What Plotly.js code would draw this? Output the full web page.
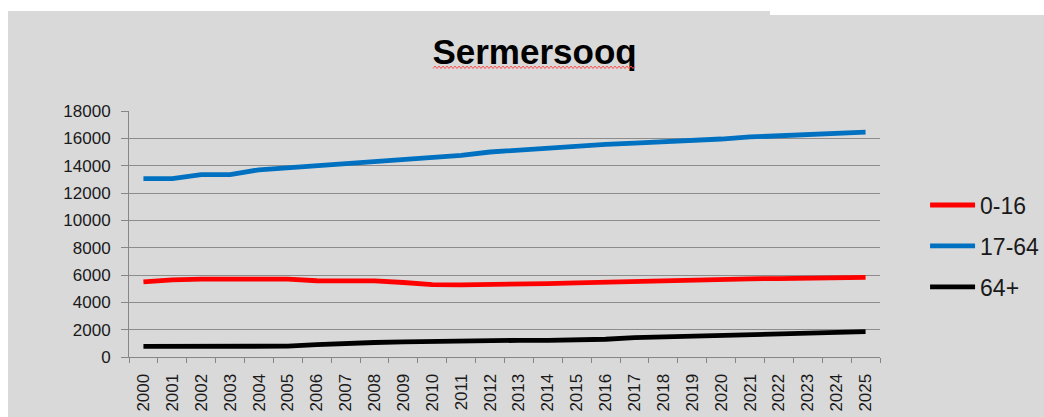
<!DOCTYPE html>
<html>
<head>
<meta charset="utf-8">
<script src="https://cdn.plot.ly/plotly-3.0.1.min.js"></script>
<style>
  html, body { margin: 0; padding: 0; background: #ffffff; width: 1044px; height: 417px; overflow: hidden; }
  #chart { position: absolute; left: 8px; top: 11px; width: 1036px; height: 406px; }
  #notch { position: absolute; left: 770px; top: 11px; width: 274px; height: 4px; background: #ffffff; }
  #squiggle { position: absolute; left: 0; top: 0; pointer-events: none; }
</style>
</head>
<body>
<div id="chart"></div>
<div id="notch"></div>
<svg id="squiggle" width="1044" height="417"></svg>
<script>
// ---- data ----
const years = ["2000","2001","2002","2003","2004","2005","2006","2007","2008","2009",
               "2010","2011","2012","2013","2014","2015","2016","2017","2018","2019",
               "2020","2021","2022","2023","2024","2025"];
const age0_16  = [5500,5650,5700,5700,5720,5700,5580,5570,5570,5450,
                  5300,5280,5290,5300,5370,5420,5470,5530,5620,5680,
                  5700,5720,5740,5780,5800,5820];
const age17_64 = [13050,13050,13350,13350,13700,13850,14000,14100,14250,14400,
                  14550,14750,15000,15150,15300,15450,15550,15650,15750,15800,
                  15950,16100,16200,16250,16350,16450];
const age64p   = [780,780,780,780,780,790,900,1000,1060,1100,
                  1150,1200,1220,1220,1220,1230,1300,1420,1480,1530,
                  1580,1620,1680,1730,1780,1850];
const seriesNames = ["0-16","17-64","64+"];
const yTicks = [0,2000,4000,6000,8000,10000,12000,14000,16000,18000];
const chartTitle = "Sermersooq";

const colors = ["#ff0000","#0070c0","#000000"];
const values = [age0_16, age17_64, age64p];

const traces = values.map((v, i) => ({
  type: "scatter", mode: "lines", x: years, y: v, name: seriesNames[i],
  legendgroup: "g" + i,
  line: { color: colors[i], width: 4.8 }
}));

const font = "Liberation Sans, Arial, sans-serif";
const layout = {
  width: 1036, height: 406,
  paper_bgcolor: "#d9d9d9", plot_bgcolor: "#d9d9d9",
  margin: { l: 121, r: 164, t: 100, b: 60, autoexpand: false },
  font: { family: font, color: "#1a1a1a" },
  title: {
    text: "<b>" + chartTitle + "</b>",
    font: { family: font, size: 35, color: "#000000" },
    x: 0.54, xanchor: "center", xref: "paper",
    y: 0.9, yanchor: "middle", yref: "container"
  },
  showlegend: true,
  legend: {
    x: 1.06, xanchor: "left", y: 0.451, yanchor: "middle",
    bgcolor: "rgba(0,0,0,0)", font: { family: font, size: 23, color: "#1a1a1a" },
    tracegroupgap: 8, itemwidth: 45
  },
  xaxis: {
    type: "category", tickangle: -90, tickson: "boundaries",
    range: [-0.5, years.length - 0.5],
    ticks: "outside", ticklen: 5, tickcolor: "#868686",
    showline: true, linecolor: "#868686", linewidth: 1,
    showgrid: false, tickfont: { family: font, size: 17, color: "#1a1a1a" },
    ticklabelstandoff: 9, fixedrange: true
  },
  yaxis: {
    range: [0, 18000], tickvals: yTicks, ticktext: yTicks.map(String),
    ticks: "outside", ticklen: 7, tickcolor: "#868686",
    showline: true, linecolor: "#868686", linewidth: 1,
    showgrid: true, gridcolor: "#8c8c8c", gridwidth: 1, zeroline: false,
    tickfont: { family: font, size: 17, color: "#1a1a1a" },
    ticklabelstandoff: 7, fixedrange: true
  }
};

Plotly.newPlot("chart", traces, layout, { displayModeBar: false, staticPlot: true });

// decorative spell-check squiggle under the title
(function () {
  const svg = document.getElementById("squiggle");
  let pts = [];
  for (let x = 433, k = 0; x <= 636; x += 2, k++) pts.push(x + "," + (k % 2 ? 66 : 68.5));
  const pl = document.createElementNS("http://www.w3.org/2000/svg", "polyline");
  pl.setAttribute("points", pts.join(" "));
  pl.setAttribute("fill", "none");
  pl.setAttribute("stroke", "#ff4d4d");
  pl.setAttribute("stroke-width", "1");
  svg.appendChild(pl);
})();
</script>
</body>
</html>
